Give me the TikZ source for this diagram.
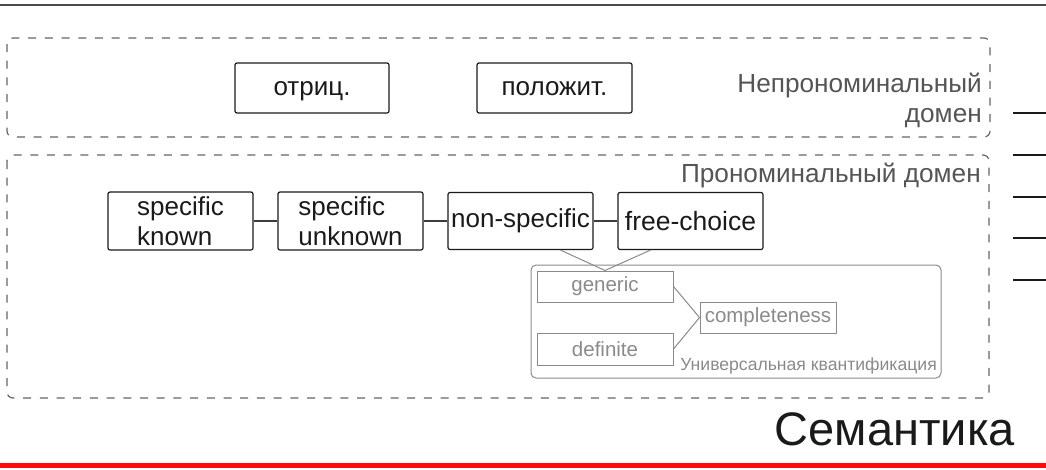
\documentclass[tikz,border=0pt]{standalone}
\usepackage{fontspec}
\setmainfont{Liberation Sans}
\definecolor{boxgray}{HTML}{8A8A8A}
\definecolor{dashgray}{HTML}{666666}
\definecolor{labgray}{HTML}{555555}
\definecolor{ink}{HTML}{1A1A1A}
\definecolor{topline}{HTML}{4A4A4A}
\definecolor{redline}{HTML}{FF0A0A}
\begin{document}
\begin{tikzpicture}[x=1pt,y=-1pt,
  mainbox/.style={draw=ink, line width=1.2pt, rounded corners=2pt, inner sep=0pt,
    font=\fontsize{26}{30}\selectfont, text=ink},
  graybox/.style={draw=boxgray, line width=1pt, inner sep=0pt, minimum width=136pt,
    font=\fontsize{20.5}{24}\selectfont, text=boxgray},
  domlabel/.style={font=\fontsize{26.2}{30}\selectfont, text=labgray, anchor=base east,
    inner sep=0pt, align=right},
  dashbox/.style={draw=dashgray, line width=1.2pt, dash pattern=on 8pt off 8.7pt,
    rounded corners=6pt},
  link/.style={draw=ink!85, line width=1.2pt},
  glink/.style={draw=boxgray, line width=1pt},
  sideline/.style={draw=ink, line width=1.3pt}
]
\useasboundingbox (0,0) rectangle (1046,469);

% header and footer rules
\draw[topline, line width=2pt] (0,4.5) -- (1046,4.5);
\fill[redline] (0,463) rectangle (1046,468);

% domain containers
\draw[dashbox] (7,38) rectangle (990,137);
\draw[dashbox] (7,155) rectangle (989,398);

% non-pronominal domain
\node[mainbox, minimum width=154pt, minimum height=50pt, text height=14pt, text depth=0pt] (neg) at (312,88) {отриц.};
\node[mainbox, minimum width=155pt, minimum height=50pt, text height=14pt, text depth=0pt] (pos) at (554.5,88) {положит.};
\node[domlabel] (npd) at (982,122) {Непрономинальный\\домен};

% pronominal domain
\node[domlabel] (pd) at (981,182) {Прономинальный домен};
\node[mainbox, minimum width=145pt, minimum height=58pt, align=left] (sk) at (180.5,221) {specific\\known};
\node[mainbox, minimum width=145pt, minimum height=58pt, align=left] (su) at (350.5,221) {specific\\unknown};
\node[mainbox, minimum width=145pt, minimum height=57pt] (ns) at (520.5,221) {non-specific};
\node[mainbox, minimum width=145pt, minimum height=57pt, font=\fontsize{26.5}{30}\selectfont] (fc) at (690.5,221) {free-choice};
\draw[link] (sk.east) -- (su.west);
\draw[link] (su.east) -- (ns.west);
\draw[link] (ns.east) -- (fc.west);

% universal quantification
\draw[draw=boxgray, line width=1pt, rounded corners=5pt] (531,265) rectangle (941,378);
\node[graybox, minimum height=31pt] (gen) at (605,286.5) {generic};
\node[graybox, minimum height=32pt] (def) at (605,349) {definite};
\node[graybox, minimum height=31pt] (comp) at (768,317.5) {completeness};
\node[font=\fontsize{17.6}{20}\selectfont, text=boxgray, anchor=base east, inner sep=0pt] (uq) at (937,370) {Универсальная квантификация};
\draw[glink] ([xshift=40pt]ns.south) -- (gen.north) -- ([xshift=-40pt]fc.south);
\draw[glink] (gen.east) -- (comp.west);
\draw[glink] (def.east) -- (comp.west);

% side marks
\foreach \yy in {113,155,197,238,280}
  \draw[sideline] (1013,\yy) -- (1046,\yy);

% title
\node[font=\fontsize{47}{50}\selectfont, text=ink, anchor=base east, inner sep=0pt] (title) at (1015,445) {Семантика};
\end{tikzpicture}
\end{document}
